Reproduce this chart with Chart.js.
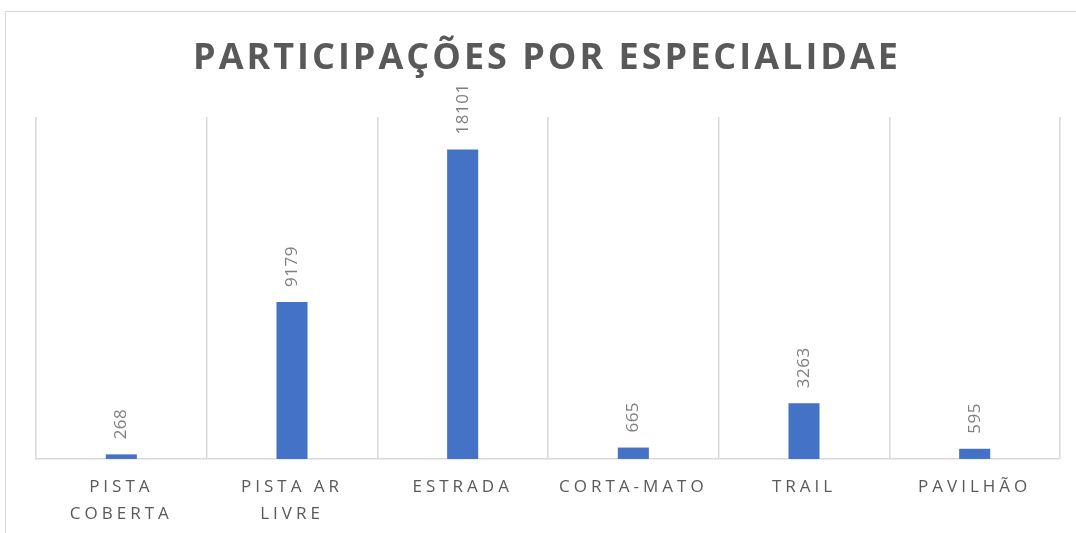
<!DOCTYPE html>
<html>
<head>
<meta charset="utf-8">
<script src="https://cdn.jsdelivr.net/npm/chart.js@4/dist/chart.umd.min.js"></script>
<style>
    html, body { margin: 0; padding: 0; background: #fff; overflow: hidden; width: 1076px; height: 533px; }
    #frame {
        position: absolute; left: 5px; top: 11px; width: 1100px; height: 560px;
        border: 1px solid #d9d9d9; box-sizing: border-box;
    }
    #wrap { position: absolute; left: 0; top: 0; width: 1076px; height: 551px; }
</style>
</head>
<body>
<div id="frame"></div>
<div id="wrap"><canvas id="chart"></canvas></div>
<script>
const chartTitle = 'PARTICIPAÇÕES POR ESPECIALIDAE';
const categories = [['PISTA', 'COBERTA'], ['PISTA AR', 'LIVRE'], 'ESTRADA', 'CORTA-MATO', 'TRAIL', 'PAVILHÃO'];
const participations = [268, 9179, 18101, 665, 3263, 595];
const yMax = 20000;

const textGray = '#595959';
const labelGray = '#7f7f7f';
const gridGray = '#d9d9d9';
const barBlue = '#4472c4';

const spacingPlugin = {
    id: 'spacing',
    beforeDraw: (chart) => {
        chart.ctx.letterSpacing = '4px';
    }
};

const titlePlugin = {
    id: 'bigTitle',
    afterDraw: (chart) => {
        const ctx = chart.ctx;
        ctx.save();
        ctx.letterSpacing = '3px';
        ctx.font = 'bold 36px "Open Sans"';
        ctx.fillStyle = textGray;
        ctx.textAlign = 'center';
        ctx.textBaseline = 'middle';
        ctx.fillText(chartTitle, 547, 59);
        ctx.restore();
    }
};

const valueLabels = {
    id: 'valueLabels',
    afterDatasetsDraw: (chart) => {
        const ctx = chart.ctx;
        const meta = chart.getDatasetMeta(0);
        ctx.save();
        ctx.letterSpacing = '0.5px';
        ctx.font = '17px "Open Sans"';
        ctx.fillStyle = labelGray;
        ctx.textAlign = 'left';
        ctx.textBaseline = 'middle';
        meta.data.forEach((bar, i) => {
            ctx.save();
            ctx.translate(bar.x, bar.y - 15);
            ctx.rotate(-Math.PI / 2);
            ctx.fillText(String(participations[i]), 0, 0);
            ctx.restore();
        });
        ctx.restore();
    }
};

new Chart(document.getElementById('chart'), {
    type: 'bar',
    data: {
        labels: categories,
        datasets: [{
            data: participations,
            backgroundColor: barBlue,
            barPercentage: 0.182,
            categoryPercentage: 1
        }]
    },
    options: {
        responsive: true,
        maintainAspectRatio: false,
        animation: false,
        layout: { padding: { top: 117, left: 36, right: 16, bottom: 8 } },
        plugins: {
            legend: { display: false },
            title: { display: false },
            tooltip: { enabled: false }
        },
        scales: {
            x: {
                grid: { offset: true, color: gridGray, drawTicks: false, lineWidth: 1.5 },
                border: { color: gridGray, width: 1.5 },
                ticks: {
                    color: textGray,
                    padding: 15,
                    maxRotation: 0,
                    autoSkip: false,
                    font: { family: 'Open Sans', size: 17, lineHeight: 1.59 }
                }
            },
            y: {
                display: false,
                min: 0,
                max: yMax
            }
        }
    },
    plugins: [spacingPlugin, valueLabels, titlePlugin]
});
</script>
</body>
</html>
